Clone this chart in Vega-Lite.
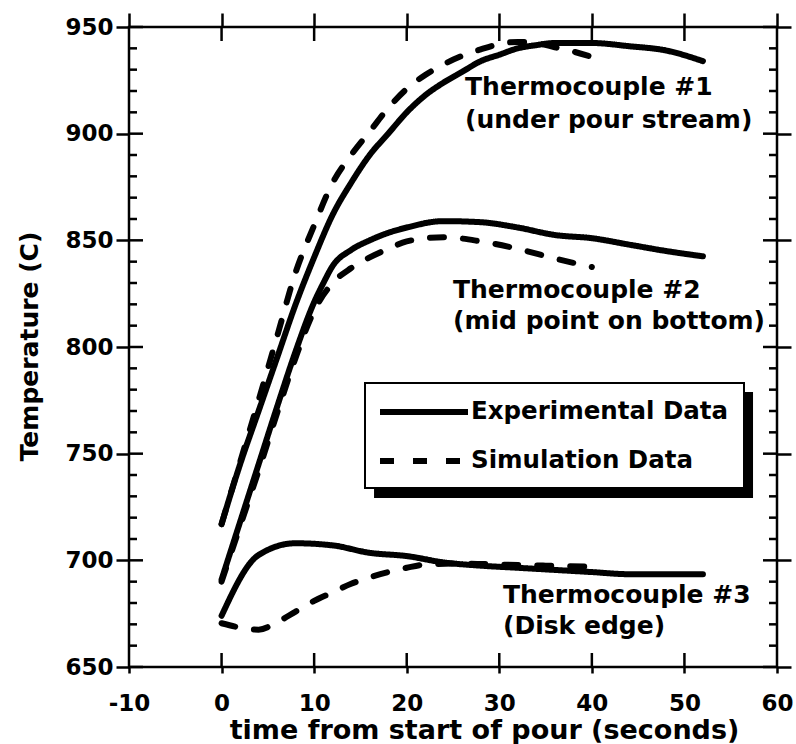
{
  "$schema": "https://vega.github.io/schema/vega-lite/v6.json",
  "width": 648,
  "height": 640,
  "autosize": {"type": "none"},
  "padding": {"left": 129, "top": 27, "right": 19, "bottom": 77},
  "background": "white",
  "config": {
    "view": {"stroke": "black", "strokeWidth": 2.5},
    "font": "DejaVu Sans",
    "axis": {
      "grid": false,
      "domain": false,
      "tickColor": "black",
      "tickWidth": 2.5,
      "labelFont": "DejaVu Sans",
      "labelFontWeight": "bold",
      "labelFontSize": 23,
      "labelColor": "black",
      "titleFont": "DejaVu Sans",
      "titleFontWeight": "bold",
      "titleColor": "black",
      "labelFlush": false,
      "labelOverlap": false
    },
    "legend": {
      "orient": "none",
      "legendX": 236,
      "legendY": 356,
      "direction": "vertical",
      "symbolType": "M-1.273,0H6.727",
      "symbolSize": 484,
      "symbolStrokeWidth": 6,
      "symbolStrokeColor": "black",
      "labelFont": "DejaVu Sans",
      "labelFontWeight": "bold",
      "labelFontSize": 24.5,
      "labelColor": "black",
      "labelOffset": 63,
      "labelLimit": 400,
      "strokeColor": "black",
      "strokeWidth": 2,
      "fillColor": "white",
      "padding": 15,
      "rowPadding": 23
    }
  },
  "datasets": {
    "yticks": [
      {"v": 650}, {"v": 660}, {"v": 670}, {"v": 680}, {"v": 690}, {"v": 700}, {"v": 710}, {"v": 720}, {"v": 730}, {"v": 740},
      {"v": 750}, {"v": 760}, {"v": 770}, {"v": 780}, {"v": 790}, {"v": 800}, {"v": 810}, {"v": 820}, {"v": 830}, {"v": 840},
      {"v": 850}, {"v": 860}, {"v": 870}, {"v": 880}, {"v": 890}, {"v": 900}, {"v": 910}, {"v": 920}, {"v": 930}, {"v": 940}, {"v": 950}
    ],
    "xticks": [
      {"v": 0}, {"v": 10}, {"v": 20}, {"v": 30}, {"v": 40}, {"v": 50}
    ],
    "temps": [
      {"t": 0, "temp": 717, "tc": "TC1", "type": "Experimental Data"},
      {"t": 2, "temp": 745, "tc": "TC1", "type": "Experimental Data"},
      {"t": 4, "temp": 770, "tc": "TC1", "type": "Experimental Data"},
      {"t": 6, "temp": 795, "tc": "TC1", "type": "Experimental Data"},
      {"t": 8, "temp": 820, "tc": "TC1", "type": "Experimental Data"},
      {"t": 10, "temp": 842, "tc": "TC1", "type": "Experimental Data"},
      {"t": 12, "temp": 862, "tc": "TC1", "type": "Experimental Data"},
      {"t": 14, "temp": 877, "tc": "TC1", "type": "Experimental Data"},
      {"t": 16, "temp": 890, "tc": "TC1", "type": "Experimental Data"},
      {"t": 18, "temp": 900, "tc": "TC1", "type": "Experimental Data"},
      {"t": 20, "temp": 910, "tc": "TC1", "type": "Experimental Data"},
      {"t": 22, "temp": 918, "tc": "TC1", "type": "Experimental Data"},
      {"t": 24, "temp": 924, "tc": "TC1", "type": "Experimental Data"},
      {"t": 26, "temp": 929, "tc": "TC1", "type": "Experimental Data"},
      {"t": 28, "temp": 934, "tc": "TC1", "type": "Experimental Data"},
      {"t": 30, "temp": 937, "tc": "TC1", "type": "Experimental Data"},
      {"t": 32, "temp": 940, "tc": "TC1", "type": "Experimental Data"},
      {"t": 34, "temp": 941.5, "tc": "TC1", "type": "Experimental Data"},
      {"t": 36, "temp": 942.5, "tc": "TC1", "type": "Experimental Data"},
      {"t": 40, "temp": 942.5, "tc": "TC1", "type": "Experimental Data"},
      {"t": 44, "temp": 941, "tc": "TC1", "type": "Experimental Data"},
      {"t": 48, "temp": 939, "tc": "TC1", "type": "Experimental Data"},
      {"t": 52, "temp": 934, "tc": "TC1", "type": "Experimental Data"},

      {"t": 0, "temp": 717, "tc": "TC1", "type": "Simulation Data"},
      {"t": 2, "temp": 746, "tc": "TC1", "type": "Simulation Data"},
      {"t": 4, "temp": 775, "tc": "TC1", "type": "Simulation Data"},
      {"t": 6, "temp": 805, "tc": "TC1", "type": "Simulation Data"},
      {"t": 8, "temp": 835, "tc": "TC1", "type": "Simulation Data"},
      {"t": 10, "temp": 857, "tc": "TC1", "type": "Simulation Data"},
      {"t": 12, "temp": 877, "tc": "TC1", "type": "Simulation Data"},
      {"t": 14, "temp": 890, "tc": "TC1", "type": "Simulation Data"},
      {"t": 16, "temp": 901, "tc": "TC1", "type": "Simulation Data"},
      {"t": 18, "temp": 912, "tc": "TC1", "type": "Simulation Data"},
      {"t": 20, "temp": 921, "tc": "TC1", "type": "Simulation Data"},
      {"t": 22, "temp": 927.5, "tc": "TC1", "type": "Simulation Data"},
      {"t": 24, "temp": 932.5, "tc": "TC1", "type": "Simulation Data"},
      {"t": 26, "temp": 936.5, "tc": "TC1", "type": "Simulation Data"},
      {"t": 28, "temp": 939.5, "tc": "TC1", "type": "Simulation Data"},
      {"t": 30, "temp": 942, "tc": "TC1", "type": "Simulation Data"},
      {"t": 32, "temp": 943, "tc": "TC1", "type": "Simulation Data"},
      {"t": 34, "temp": 942.5, "tc": "TC1", "type": "Simulation Data"},
      {"t": 36, "temp": 940.5, "tc": "TC1", "type": "Simulation Data"},
      {"t": 38, "temp": 938.5, "tc": "TC1", "type": "Simulation Data"},
      {"t": 40, "temp": 936, "tc": "TC1", "type": "Simulation Data"},

      {"t": 0, "temp": 691, "tc": "TC2", "type": "Experimental Data"},
      {"t": 2, "temp": 718, "tc": "TC2", "type": "Experimental Data"},
      {"t": 4, "temp": 745, "tc": "TC2", "type": "Experimental Data"},
      {"t": 6, "temp": 772, "tc": "TC2", "type": "Experimental Data"},
      {"t": 8, "temp": 798, "tc": "TC2", "type": "Experimental Data"},
      {"t": 10, "temp": 821, "tc": "TC2", "type": "Experimental Data"},
      {"t": 11, "temp": 830, "tc": "TC2", "type": "Experimental Data"},
      {"t": 12, "temp": 838, "tc": "TC2", "type": "Experimental Data"},
      {"t": 14, "temp": 845.5, "tc": "TC2", "type": "Experimental Data"},
      {"t": 16, "temp": 850, "tc": "TC2", "type": "Experimental Data"},
      {"t": 18, "temp": 853.5, "tc": "TC2", "type": "Experimental Data"},
      {"t": 20, "temp": 856, "tc": "TC2", "type": "Experimental Data"},
      {"t": 24, "temp": 859, "tc": "TC2", "type": "Experimental Data"},
      {"t": 28, "temp": 858.5, "tc": "TC2", "type": "Experimental Data"},
      {"t": 32, "temp": 856, "tc": "TC2", "type": "Experimental Data"},
      {"t": 36, "temp": 852.5, "tc": "TC2", "type": "Experimental Data"},
      {"t": 40, "temp": 851, "tc": "TC2", "type": "Experimental Data"},
      {"t": 44, "temp": 848, "tc": "TC2", "type": "Experimental Data"},
      {"t": 48, "temp": 845, "tc": "TC2", "type": "Experimental Data"},
      {"t": 52, "temp": 842.5, "tc": "TC2", "type": "Experimental Data"},

      {"t": 0, "temp": 690, "tc": "TC2", "type": "Simulation Data"},
      {"t": 2, "temp": 716, "tc": "TC2", "type": "Simulation Data"},
      {"t": 4, "temp": 742, "tc": "TC2", "type": "Simulation Data"},
      {"t": 6, "temp": 769, "tc": "TC2", "type": "Simulation Data"},
      {"t": 8, "temp": 795, "tc": "TC2", "type": "Simulation Data"},
      {"t": 10, "temp": 817, "tc": "TC2", "type": "Simulation Data"},
      {"t": 12, "temp": 830, "tc": "TC2", "type": "Simulation Data"},
      {"t": 14, "temp": 837, "tc": "TC2", "type": "Simulation Data"},
      {"t": 16, "temp": 842, "tc": "TC2", "type": "Simulation Data"},
      {"t": 18, "temp": 846, "tc": "TC2", "type": "Simulation Data"},
      {"t": 20, "temp": 849.5, "tc": "TC2", "type": "Simulation Data"},
      {"t": 24, "temp": 851.5, "tc": "TC2", "type": "Simulation Data"},
      {"t": 28, "temp": 849.5, "tc": "TC2", "type": "Simulation Data"},
      {"t": 32, "temp": 846, "tc": "TC2", "type": "Simulation Data"},
      {"t": 36, "temp": 841.5, "tc": "TC2", "type": "Simulation Data"},
      {"t": 40, "temp": 837.5, "tc": "TC2", "type": "Simulation Data"},

      {"t": 0, "temp": 674, "tc": "TC3", "type": "Experimental Data"},
      {"t": 4, "temp": 702.5, "tc": "TC3", "type": "Experimental Data"},
      {"t": 8, "temp": 708, "tc": "TC3", "type": "Experimental Data"},
      {"t": 12, "temp": 707, "tc": "TC3", "type": "Experimental Data"},
      {"t": 16, "temp": 703.5, "tc": "TC3", "type": "Experimental Data"},
      {"t": 20, "temp": 702, "tc": "TC3", "type": "Experimental Data"},
      {"t": 24, "temp": 699, "tc": "TC3", "type": "Experimental Data"},
      {"t": 28, "temp": 697.5, "tc": "TC3", "type": "Experimental Data"},
      {"t": 32, "temp": 696.5, "tc": "TC3", "type": "Experimental Data"},
      {"t": 36, "temp": 695.5, "tc": "TC3", "type": "Experimental Data"},
      {"t": 40, "temp": 694.5, "tc": "TC3", "type": "Experimental Data"},
      {"t": 44, "temp": 693.5, "tc": "TC3", "type": "Experimental Data"},
      {"t": 48, "temp": 693.5, "tc": "TC3", "type": "Experimental Data"},
      {"t": 52, "temp": 693.5, "tc": "TC3", "type": "Experimental Data"},

      {"t": 0, "temp": 670.5, "tc": "TC3", "type": "Simulation Data"},
      {"t": 4, "temp": 667.5, "tc": "TC3", "type": "Simulation Data"},
      {"t": 6, "temp": 671, "tc": "TC3", "type": "Simulation Data"},
      {"t": 8, "temp": 676, "tc": "TC3", "type": "Simulation Data"},
      {"t": 10, "temp": 681, "tc": "TC3", "type": "Simulation Data"},
      {"t": 12, "temp": 685, "tc": "TC3", "type": "Simulation Data"},
      {"t": 14, "temp": 689, "tc": "TC3", "type": "Simulation Data"},
      {"t": 16, "temp": 692, "tc": "TC3", "type": "Simulation Data"},
      {"t": 18, "temp": 694.5, "tc": "TC3", "type": "Simulation Data"},
      {"t": 20, "temp": 696.5, "tc": "TC3", "type": "Simulation Data"},
      {"t": 22, "temp": 698, "tc": "TC3", "type": "Simulation Data"},
      {"t": 26, "temp": 698.5, "tc": "TC3", "type": "Simulation Data"},
      {"t": 30, "temp": 698, "tc": "TC3", "type": "Simulation Data"},
      {"t": 35, "temp": 697.5, "tc": "TC3", "type": "Simulation Data"},
      {"t": 40, "temp": 697, "tc": "TC3", "type": "Simulation Data"}
    ]
  },
  "data": {"name": "temps"},
  "resolve": {"axis": {"x": "independent", "y": "independent"}},
  "layer": [
    {
      "data": {"values": [{}]},
      "mark": {"type": "rect", "color": "black"},
      "encoding": {
        "x": {"datum": 16.47, "type": "quantitative", "scale": {"domain": [-10, 60], "nice": false, "zero": false}, "axis": null},
        "x2": {"datum": 57.41},
        "y": {"datum": 778.9, "type": "quantitative", "scale": {"domain": [650, 950], "nice": false, "zero": false}, "axis": null},
        "y2": {"datum": 729.2}
      }
    },
    {
      "mark": {"type": "line", "color": "black", "strokeWidth": 6, "strokeCap": "round", "strokeJoin": "round", "interpolate": "monotone"},
      "encoding": {
        "x": {
          "field": "t", "type": "quantitative",
          "scale": {"domain": [-10, 60], "nice": false, "zero": false},
          "axis": {
            "orient": "bottom",
            "values": [-10, 0, 10, 20, 30, 40, 50, 60],
            "labelExpr": "'' + datum.value",
            "tickSize": 6,
            "labelPadding": 19,
            "title": "time from start of pour (seconds)",
            "titleFontSize": 27,
            "titleX": 355,
            "titleY": 71,
            "titleAlign": "center",
            "titleBaseline": "alphabetic"
          }
        },
        "y": {
          "field": "temp", "type": "quantitative",
          "scale": {"domain": [650, 950], "nice": false, "zero": false},
          "axis": {
            "orient": "left",
            "values": [650, 700, 750, 800, 850, 900, 950],
            "tickSize": 13,
            "labelPadding": 3,
            "labelBaseline": "middle",
            "title": "Temperature (C)",
            "titleFontSize": 25,
            "titleAngle": 270,
            "titleX": -92,
            "titleY": 319,
            "titleAlign": "center",
            "titleBaseline": "alphabetic"
          }
        },
        "detail": {"field": "tc"},
        "order": {"field": "t", "type": "quantitative"},
        "strokeDash": {
          "field": "type", "type": "nominal",
          "scale": {"domain": ["Experimental Data", "Simulation Data"], "range": [[1, 0], [14, 19]]},
          "legend": {"title": null}
        }
      }
    },
    {
      "mark": {"type": "point", "opacity": 0},
      "encoding": {
        "x": {"field": "t", "type": "quantitative", "axis": {"orient": "top", "values": [-10, 0, 10, 20, 30, 40, 50, 60], "tickSize": 14, "labels": false, "title": null}},
        "y": {"field": "temp", "type": "quantitative", "axis": {"orient": "right", "values": [650, 700, 750, 800, 850, 900, 950], "tickSize": 14, "labels": false, "title": null}}
      }
    },
    {
      "data": {"name": "yticks"},
      "transform": [{"filter": "datum.v % 50 === 0"}],
      "mark": {"type": "point", "shape": "stroke", "size": 196, "filled": false, "opacity": 1, "color": "black", "strokeWidth": 2.5, "xOffset": 7},
      "encoding": {
        "y": {"field": "v", "type": "quantitative", "axis": null},
        "x": {"datum": -10, "type": "quantitative", "axis": null}
      }
    },
    {
      "data": {"name": "yticks"},
      "transform": [{"filter": "datum.v % 50 !== 0"}],
      "mark": {"type": "point", "shape": "stroke", "size": 64, "filled": false, "opacity": 1, "color": "black", "strokeWidth": 2.5, "xOffset": 4},
      "encoding": {
        "y": {"field": "v", "type": "quantitative", "axis": null},
        "x": {"datum": -10, "type": "quantitative", "axis": null}
      }
    },
    {
      "data": {"name": "yticks"},
      "transform": [{"filter": "datum.v % 50 === 0"}],
      "mark": {"type": "point", "shape": "stroke", "size": 196, "filled": false, "opacity": 1, "color": "black", "strokeWidth": 2.5, "xOffset": -7},
      "encoding": {
        "y": {"field": "v", "type": "quantitative", "axis": null},
        "x": {"datum": 60, "type": "quantitative", "axis": null}
      }
    },
    {
      "data": {"name": "yticks"},
      "transform": [{"filter": "datum.v % 50 !== 0"}],
      "mark": {"type": "point", "shape": "stroke", "size": 64, "filled": false, "opacity": 1, "color": "black", "strokeWidth": 2.5, "xOffset": -4},
      "encoding": {
        "y": {"field": "v", "type": "quantitative", "axis": null},
        "x": {"datum": 60, "type": "quantitative", "axis": null}
      }
    },
    {
      "data": {"name": "xticks"},
      "mark": {"type": "point", "shape": "M0,-1V1", "size": 196, "filled": false, "opacity": 1, "color": "black", "strokeWidth": 2.5, "yOffset": -7},
      "encoding": {
        "x": {"field": "v", "type": "quantitative", "axis": null},
        "y": {"datum": 650, "type": "quantitative", "axis": null}
      }
    },
    {
      "data": {"name": "xticks"},
      "mark": {"type": "point", "shape": "M0,-1V1", "size": 196, "filled": false, "opacity": 1, "color": "black", "strokeWidth": 2.5, "yOffset": 7},
      "encoding": {
        "x": {"field": "v", "type": "quantitative", "axis": null},
        "y": {"datum": 950, "type": "quantitative", "axis": null}
      }
    },
    {
      "data": {"values": [{}]},
      "mark": {"type": "text", "text": ["Thermocouple #1", "(under pour stream)"], "align": "left", "baseline": "alphabetic", "font": "DejaVu Sans", "fontWeight": "bold", "fontSize": 25, "lineHeight": 33, "color": "black"},
      "encoding": {
        "x": {"datum": 26.3, "type": "quantitative", "axis": null},
        "y": {"datum": 918.1, "type": "quantitative", "axis": null}
      }
    },
    {
      "data": {"values": [{}]},
      "mark": {"type": "text", "text": ["Thermocouple #2", "(mid point on bottom)"], "align": "left", "baseline": "alphabetic", "font": "DejaVu Sans", "fontWeight": "bold", "fontSize": 25, "lineHeight": 31, "color": "black"},
      "encoding": {
        "x": {"datum": 25.0, "type": "quantitative", "axis": null},
        "y": {"datum": 823, "type": "quantitative", "axis": null}
      }
    },
    {
      "data": {"values": [{}]},
      "mark": {"type": "text", "text": ["Thermocouple #3", "(Disk edge)"], "align": "left", "baseline": "alphabetic", "font": "DejaVu Sans", "fontWeight": "bold", "fontSize": 25, "lineHeight": 31, "color": "black"},
      "encoding": {
        "x": {"datum": 30.4, "type": "quantitative", "axis": null},
        "y": {"datum": 680, "type": "quantitative", "axis": null}
      }
    }
  ]
}
